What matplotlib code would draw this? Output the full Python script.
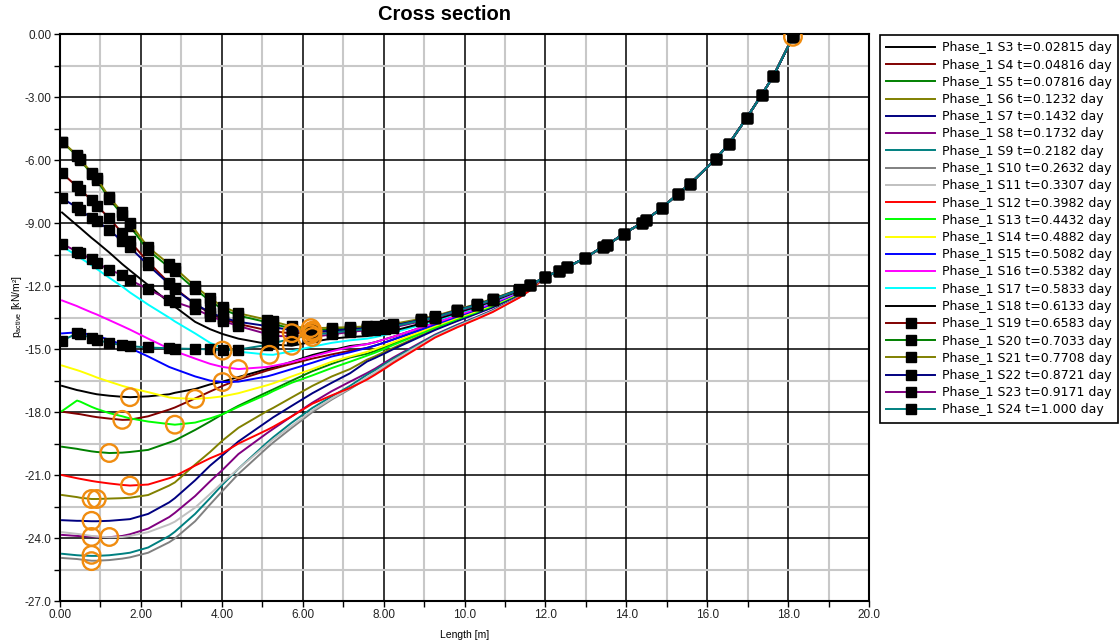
import matplotlib
matplotlib.use("Agg")
import matplotlib.pyplot as plt
from matplotlib.ticker import MultipleLocator, FixedLocator

# x positions of the calculation points (m)
X_HEAD = [0.05, 0.42, 0.5, 0.78, 0.91, 1.22, 1.54, 1.73, 2.18, 2.7, 2.84, 3.34, 3.71, 4.02, 4.41,
          5.12, 5.27, 5.73, 6.24, 6.72, 7.17]
X_MID = [7.59, 7.79, 8.03, 8.24, 8.93, 9.27, 9.81, 10.3, 10.7, 11.35, 11.62]
X_TAIL = [12.0, 12.34, 12.53, 12.98, 13.42, 13.52, 13.94, 14.39, 14.49, 14.88, 15.28, 15.58,
          16.22, 16.54, 16.98, 17.35, 17.63, 18.12]
# right part is the same for every stage
TAIL_Y = [-11.56, -11.27, -11.1, -10.66, -10.12, -10.05, -9.5, -8.98, -8.84, -8.27, -7.6, -7.12,
          -5.92, -5.21, -3.97, -2.87, -2.01, -0.12]

# p_active per stage, up to x = 11.62
S3 = [-16.75, -16.95, -16.98, -17.1, -17.15, -17.22, -17.27, -17.29, -17.25, -17.15, -17.08, -16.9, -16.68,
      -16.55, -16.33, -15.95, -15.87, -15.6, -15.28, -15.05, -14.85,
      -14.76, -14.67, -14.53, -14.41, -13.97, -13.76, -13.40, -13.08, -12.80, -12.28, -12.02]
S4 = [-17.98, -18.08, -18.1, -18.2, -18.24, -18.31, -18.37, -18.36, -18.2, -17.88, -17.78, -17.35, -17.02,
      -16.75, -16.45, -16.02, -15.94, -15.7, -15.45, -15.25, -15.08,
      -14.94, -14.83, -14.68, -14.54, -14.07, -13.83, -13.46, -13.13, -12.85, -12.31, -12.04]
S5 = [-19.65, -19.75, -19.78, -19.87, -19.9, -19.95, -19.93, -19.9, -19.8, -19.45, -19.35, -18.85, -18.45,
      -18.1, -17.7, -17.05, -16.92, -16.5, -16.05, -15.7, -15.4,
      -15.22, -15.09, -14.9, -14.74, -14.21, -13.94, -13.55, -13.21, -12.92, -12.35, -12.07]
S6 = [-21.95, -22.05, -22.08, -22.14, -22.14, -22.12, -22.1, -22.08, -21.95, -21.5, -21.35, -20.5, -19.9,
      -19.35, -18.75, -17.95, -17.8, -17.3, -16.75, -16.3, -15.95,
      -15.5, -15.34, -15.12, -14.94, -14.34, -14.05, -13.64, -13.29, -12.98, -12.4, -12.09]
S7 = [-23.15, -23.18, -23.18, -23.2, -23.2, -23.18, -23.13, -23.1, -22.85, -22.3, -22.1, -21.25, -20.55,
      -20.05, -19.4, -18.45, -18.25, -17.7, -17.1, -16.6, -16.15,
      -15.59, -15.42, -15.2, -15.0, -14.39, -14.09, -13.67, -13.31, -13.01, -12.41, -12.1]
S8 = [-23.85, -23.9, -23.91, -23.93, -23.94, -23.96, -23.9, -23.82, -23.55, -23.0, -22.8, -22.0, -21.3,
      -20.75, -20.0, -19.0, -18.8, -18.2, -17.55, -17.0, -16.55,
      -16.14, -15.93, -15.64, -15.4, -14.67, -14.31, -13.85, -13.47, -13.14, -12.5, -12.16]
S9 = [-24.75, -24.82, -24.83, -24.85, -24.85, -24.82, -24.75, -24.7, -24.45, -23.9, -23.7, -22.85, -22.1,
      -21.45, -20.7, -19.45, -19.2, -18.5, -17.8, -17.25, -16.75,
      -16.22, -16.0, -15.71, -15.46, -14.71, -14.34, -13.88, -13.49, -13.16, -12.51, -12.17]
S10 = [-24.95, -25.0, -25.02, -25.08, -25.08, -25.05, -24.98, -24.92, -24.7, -24.2, -24.02, -23.2, -22.4,
       -21.75, -20.95, -19.7, -19.45, -18.75, -18.0, -17.4, -16.9,
       -16.39, -16.16, -15.85, -15.58, -14.8, -14.41, -13.94, -13.54, -13.2, -12.54, -12.19]
S11 = [-23.72, -23.8, -23.82, -23.9, -23.93, -23.96, -23.95, -23.9, -23.72, -23.35, -23.22, -22.55, -21.9,
       -21.35, -20.7, -19.55, -19.3, -18.65, -17.92, -17.35, -16.85,
       -16.34, -16.11, -15.8, -15.54, -14.77, -14.39, -13.92, -13.52, -13.19, -12.53, -12.18]
S12 = [-21.0, -21.15, -21.18, -21.28, -21.32, -21.4, -21.47, -21.5, -21.45, -21.15, -21.05, -20.55, -20.2,
       -19.95, -19.5, -18.85, -18.7, -18.2, -17.6, -17.2, -16.85,
       -16.45, -16.22, -15.93, -15.66, -14.85, -14.45, -13.97, -13.57, -13.23, -12.55, -12.2]
S13 = [-17.95, -17.45, -17.5, -17.75, -17.85, -18.05, -18.2, -18.3, -18.45, -18.57, -18.6, -18.5, -18.3,
       -18.1, -17.75, -17.15, -17.0, -16.6, -16.25, -15.9, -15.6,
       -15.31, -15.17, -14.98, -14.8, -14.25, -13.98, -13.58, -13.24, -12.94, -12.37, -12.08]
S14 = [-15.78, -16.0, -16.05, -16.25, -16.35, -16.55, -16.75, -16.85, -17.05, -17.3, -17.33, -17.37, -17.32,
       -17.25, -17.1, -16.72, -16.63, -16.3, -15.95, -15.6, -15.35,
       -15.13, -15.0, -14.83, -14.67, -14.16, -13.9, -13.52, -13.19, -12.89, -12.34, -12.06]
S15 = [-14.25, -14.2, -14.22, -14.32, -14.38, -14.55, -14.8, -14.95, -15.35, -15.85, -15.95, -16.3, -16.5,
       -16.57, -16.55, -16.3, -16.22, -15.95, -15.65, -15.35, -15.15,
       -14.94, -14.83, -14.68, -14.54, -14.07, -13.83, -13.46, -13.13, -12.85, -12.31, -12.04]
S16 = [-12.68, -12.95, -13.02, -13.25, -13.35, -13.62, -13.9, -14.07, -14.5, -14.98, -15.1, -15.45, -15.7,
       -15.85, -15.95, -15.85, -15.8, -15.62, -15.35, -15.1, -14.9,
       -14.76, -14.67, -14.53, -14.41, -13.97, -13.76, -13.40, -13.08, -12.80, -12.28, -12.02]
S17 = [-10.1, -10.55, -10.65, -11.0, -11.18, -11.6, -12.02, -12.3, -12.88, -13.5, -13.68, -14.25, -14.7,
       -14.95, -15.12, -15.26, -15.27, -15.1, -14.88, -14.7, -14.58,
       -14.5, -14.43, -14.32, -14.22, -13.84, -13.65, -13.31, -13.01, -12.74, -12.24, -11.99]
S18 = [-8.49, -9.1, -9.23, -9.7, -9.9, -10.4, -10.95, -11.25, -11.95, -12.78, -12.98, -13.7, -14.05,
       -14.28, -14.5, -14.75, -14.78, -14.84, -14.65, -14.5, -14.42,
       -14.38, -14.32, -14.22, -14.13, -13.78, -13.6, -13.27, -12.98, -12.71, -12.22, -11.98]
S19 = [-6.62, -7.25, -7.41, -7.89, -8.17, -8.76, -9.48, -9.87, -10.85, -11.85, -12.1, -12.85, -13.3,
       -13.55, -13.8, -14.1, -14.15, -14.25, -14.2, -14.15, -14.1,
       -14.05, -14.03, -13.98, -13.93, -13.64, -13.5, -13.18, -12.9, -12.65, -12.18, -11.95]
S20 = [-5.13, -5.78, -5.99, -6.65, -6.95, -7.85, -8.6, -9.15, -10.3, -11.1, -11.3, -12.15, -12.7,
       -13.1, -13.4, -13.72, -13.8, -14.02, -14.1, -14.05, -14.0,
       -13.97, -13.95, -13.9, -13.85, -13.58, -13.45, -13.14, -12.87, -12.62, -12.16, -11.94]
S21 = [-5.11, -5.75, -5.96, -6.59, -6.86, -7.76, -8.49, -9.0, -10.15, -10.95, -11.14, -12.0, -12.57,
       -12.97, -13.29, -13.6, -13.68, -13.92, -14.0, -13.98, -13.95,
       -13.92, -13.9, -13.85, -13.8, -13.55, -13.42, -13.12, -12.85, -12.6, -12.15, -11.93]
S22 = [-7.81, -8.25, -8.37, -8.76, -8.9, -9.32, -9.87, -10.15, -11.0, -11.9, -12.15, -12.85, -13.25,
       -13.5, -13.7, -13.9, -13.95, -14.1, -14.18, -14.12, -14.05,
       -14.0, -13.98, -13.93, -13.88, -13.6, -13.47, -13.15, -12.88, -12.63, -12.17, -11.94]
S23 = [-9.98, -10.35, -10.43, -10.72, -10.88, -11.23, -11.46, -11.7, -12.15, -12.65, -12.75, -13.08, -13.42,
       -13.65, -13.9, -14.28, -14.38, -14.38, -14.42, -14.3, -14.18,
       -14.1, -14.07, -14.02, -13.97, -13.67, -13.52, -13.2, -12.92, -12.66, -12.19, -11.96]
S24 = [-14.6, -14.25, -14.27, -14.48, -14.55, -14.72, -14.8, -14.86, -14.92, -14.96, -14.97, -14.99, -15.01,
       -15.05, -15.02, -14.8, -14.72, -14.5, -14.32, -14.22, -14.12,
       -14.05, -14.03, -13.97, -13.92, -13.63, -13.5, -13.17, -12.9, -12.64, -12.17, -11.95]

SERIES = [S3, S4, S5, S6, S7, S8, S9, S10, S11, S12, S13, S14, S15, S16, S17, S18,
          S19, S20, S21, S22, S23, S24]
LABELS = ["Phase_1 S3 t=0.02815 day", "Phase_1 S4 t=0.04816 day", "Phase_1 S5 t=0.07816 day",
          "Phase_1 S6 t=0.1232 day", "Phase_1 S7 t=0.1432 day", "Phase_1 S8 t=0.1732 day",
          "Phase_1 S9 t=0.2182 day", "Phase_1 S10 t=0.2632 day", "Phase_1 S11 t=0.3307 day",
          "Phase_1 S12 t=0.3982 day", "Phase_1 S13 t=0.4432 day", "Phase_1 S14 t=0.4882 day",
          "Phase_1 S15 t=0.5082 day", "Phase_1 S16 t=0.5382 day", "Phase_1 S17 t=0.5833 day",
          "Phase_1 S18 t=0.6133 day", "Phase_1 S19 t=0.6583 day", "Phase_1 S20 t=0.7033 day",
          "Phase_1 S21 t=0.7708 day", "Phase_1 S22 t=0.8721 day", "Phase_1 S23 t=0.9171 day",
          "Phase_1 S24 t=1.000 day"]
COLORS = ["#000000", "#800000", "#008000", "#808000", "#000080", "#800080", "#008080", "#808080",
          "#c0c0c0", "#ff0000", "#00ff00", "#ffff00", "#0000ff", "#ff00ff", "#00ffff", "#000000",
          "#800000", "#008000", "#808000", "#000080", "#800080", "#008080"]
MARKED = [False] * 16 + [True] * 6

# orange circles (minimum of each stage)
CIRCLE_X = [0.78, 0.78, 0.78, 1.22, 0.78, 0.78, 0.91, 1.73, 1.22, 1.54, 2.84, 1.73, 3.34, 4.02, 4.41,
            4.02, 5.18, 5.73, 5.73, 6.2, 6.24, 6.24, 6.2, 6.24, 18.12]
CIRCLE_Y = [-25.1, -24.8, -23.95, -23.95, -23.18, -22.14, -22.14, -21.5, -19.95, -18.37, -18.6, -17.29,
            -17.37, -16.57, -15.95, -15.07, -15.27, -14.84, -14.24, -14.0, -14.12, -14.2, -14.3, -14.42,
            -0.12]

XTICKS = [0, 2, 4, 6, 8, 10, 12, 14, 16, 18, 20]
XTICK_LABELS = ["0.00", "2.00", "4.00", "6.00", "8.00", "10.0", "12.0", "14.0", "16.0", "18.0", "20.0"]
YTICKS = [0, -3, -6, -9, -12, -15, -18, -21, -24, -27]
YTICK_LABELS = ["0.00", "-3.00", "-6.00", "-9.00", "-12.0", "-15.0", "-18.0", "-21.0", "-24.0", "-27.0"]

X = X_HEAD + X_MID + X_TAIL

fig = plt.figure(figsize=(11.19, 6.42), dpi=100)
ax = fig.add_axes([60 / 1119, 1 - 601 / 642, 809 / 1119, 566.7 / 642])

for ys, lab, col, mk in zip(SERIES, LABELS, COLORS, MARKED):
    if mk:
        ax.plot(X, ys + TAIL_Y, color=col, lw=1.4, marker="s", ms=6.5, mfc="black", mec="black",
                label=lab, zorder=4)
    else:
        ax.plot(X, ys + TAIL_Y, color=col, lw=1.4, label=lab, zorder=3)

ax.scatter(CIRCLE_X, CIRCLE_Y, s=160, facecolors="none", edgecolors="#f08c10", linewidths=1.7, zorder=6)

ax.set_xlim(0, 20)
ax.set_ylim(-27, 0)
ax.xaxis.set_major_locator(FixedLocator(XTICKS))
ax.set_xticklabels(XTICK_LABELS)
ax.xaxis.set_minor_locator(MultipleLocator(1))
ax.yaxis.set_major_locator(FixedLocator(YTICKS))
ax.set_yticklabels(YTICK_LABELS)
ax.yaxis.set_minor_locator(MultipleLocator(1.5))
ax.set_axisbelow(True)
ax.grid(which="minor", color="#c8c8c8", lw=1.5)
ax.grid(which="major", color="black", lw=1.1)
ax.tick_params(which="both", direction="out", length=4, width=1, colors="black",
               labelcolor="#222222", labelsize=8.5, pad=2)
for s in ax.spines.values():
    s.set_linewidth(1.5)
for lbl in ax.get_xticklabels() + ax.get_yticklabels():
    lbl.set_family("Liberation Sans")

ax.set_xlabel("Length [m]", fontsize=7.5, family="Liberation Sans")
ax.xaxis.set_label_coords(0.5, -0.052)
ax.set_ylabel(r"$\mathregular{p_{active}}$ [kN/m²]", fontsize=7.5, family="Liberation Sans")
ax.yaxis.set_label_coords(-0.045, 0.52)

fig.text(445 / 1119, 1 - 15 / 642, "Cross section", ha="center", va="center", fontsize=14.5,
         fontweight="bold", family="Liberation Sans")

leg = ax.legend(loc="upper left", bbox_to_anchor=(880 / 1119, 1 - 35 / 642), bbox_transform=fig.transFigure,
                fancybox=False, edgecolor="black", framealpha=1, borderaxespad=0, fontsize=9,
                handlelength=3.9, handletextpad=0.55, labelspacing=0.34, borderpad=0.5, numpoints=1)
leg.get_frame().set_linewidth(1.2)

fig.savefig("out.png", dpi=100)
